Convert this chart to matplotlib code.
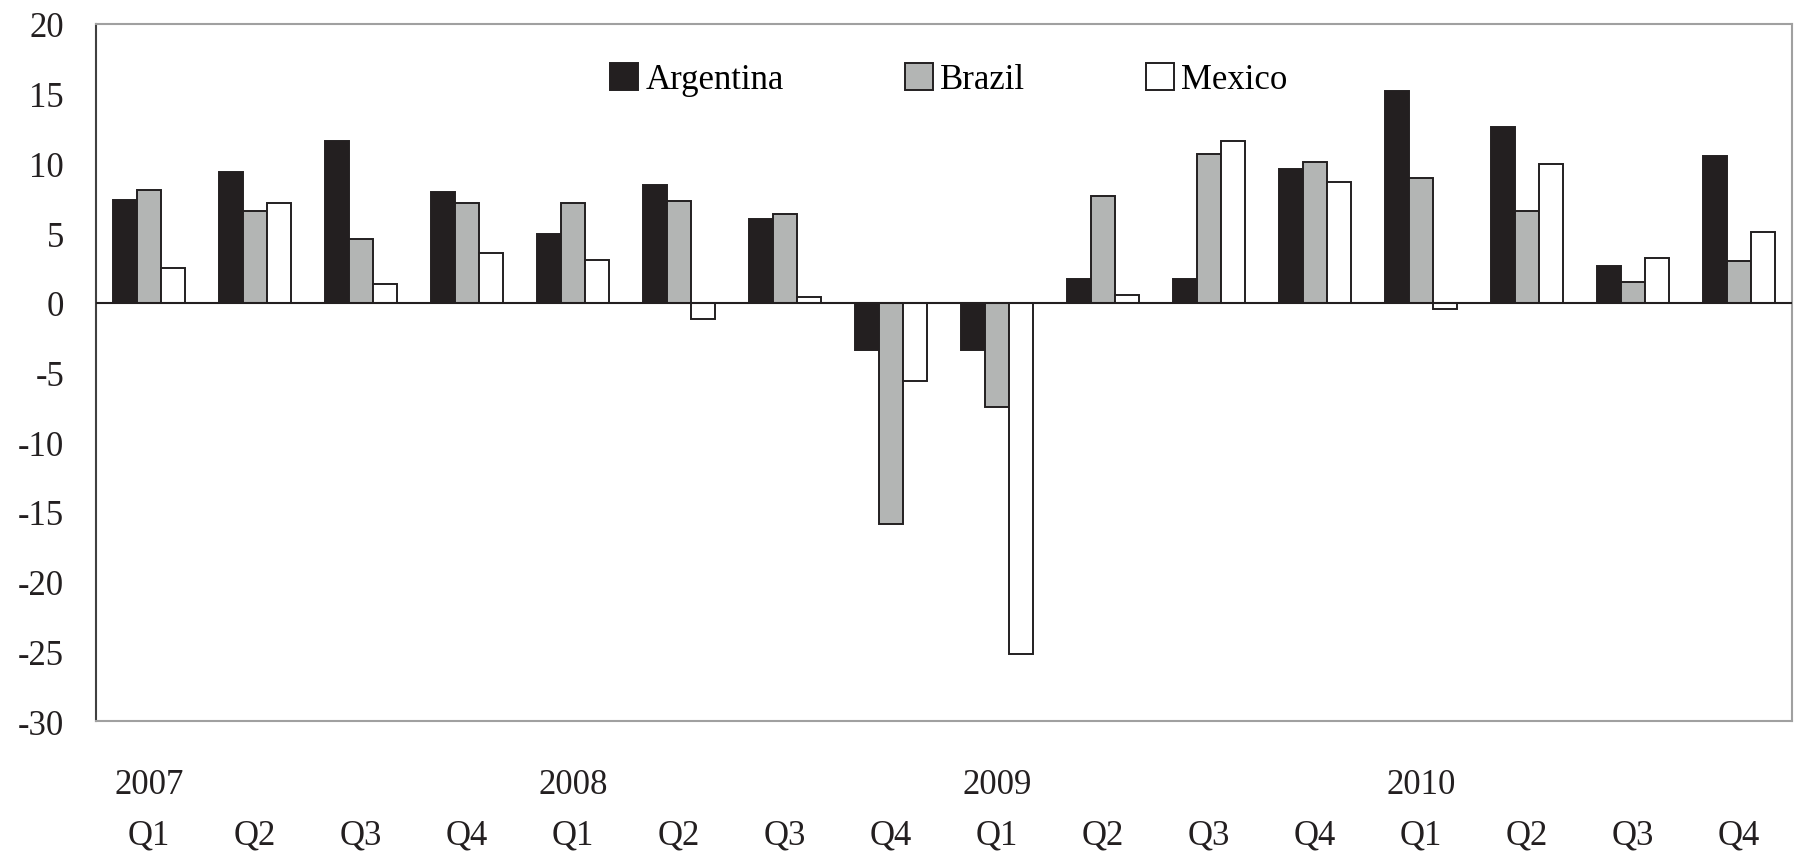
import matplotlib

matplotlib.use("Agg")
import matplotlib.pyplot as plt
import numpy as np

quarters = ["Q1", "Q2", "Q3", "Q4"] * 4
years = ["2007", "2008", "2009", "2010"]
argentina = [7.35, 9.41, 11.64, 7.93, 4.93, 8.48, 6.04, -3.39,
             -3.39, 1.72, 1.72, 9.58, 15.21, 12.60, 2.66, 10.54]
brazil = [8.07, 6.56, 4.55, 7.14, 7.14, 7.33, 6.40, -15.86,
          -7.46, 7.66, 10.71, 10.11, 8.98, 6.56, 1.49, 2.99]
mexico = [2.47, 7.16, 1.34, 3.59, 3.04, -1.15, 0.41, -5.60,
          -25.16, 0.57, 11.62, 8.65, -0.43, 9.96, 3.21, 5.08]

INK = "#231f20"
plt.rcParams["font.family"] = ["Liberation Serif", "DejaVu Serif"]
plt.rcParams["axes.unicode_minus"] = False

fig = plt.figure(figsize=(18.04, 8.62), dpi=100)
ax = fig.add_axes([0.0532, 0.1624, 0.9401, 0.8086])

x = np.arange(len(quarters))
w = 0.227
kw = dict(edgecolor=INK, linewidth=1.4, zorder=3)
ax.bar(x - w, argentina, w, color=INK, label="Argentina", **kw)
ax.bar(x, brazil, w, color="#b3b5b4", label="Brazil", **kw)
ax.bar(x + w, mexico, w, color="white", label="Mexico", **kw)

ax.axhline(0, color=INK, lw=1.5, zorder=4)
ax.set_xlim(-0.5, len(quarters) - 0.5)
ax.set_ylim(-30, 20)
ax.set_yticks(range(-30, 21, 5))
ax.tick_params(axis="y", length=0, pad=23, labelsize=25, labelcolor=INK)
ax.set_xticks([])

for s in ["top", "right", "bottom"]:
    ax.spines[s].set_color("#a0a0a0")
    ax.spines[s].set_linewidth(1.5)
ax.spines["left"].set_color("#404040")
ax.spines["left"].set_linewidth(1.5)

tr = ax.get_xaxis_transform()
for i, q in enumerate(quarters):
    ax.text(x[i], -0.1636, q, transform=tr, ha="center", va="center", fontsize=25, color=INK)
for j, yr in enumerate(years):
    ax.text(x[j * 4], -0.0918, yr, transform=tr, ha="center", va="center", fontsize=25, color=INK)

ax.legend(loc="center", bbox_to_anchor=(0.503, 0.92), ncol=3, frameon=False,
          fontsize=25, handlelength=0.8, handleheight=0.8, handletextpad=0.2,
          columnspacing=3.5)

fig.savefig("out.png", dpi=100, facecolor="white")
